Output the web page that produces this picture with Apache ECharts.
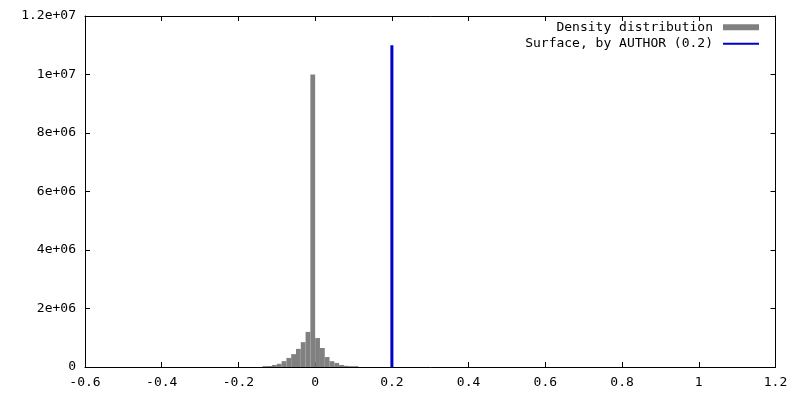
<!DOCTYPE html>
<html>
<head>
<meta charset="utf-8">
<script src="https://cdn.jsdelivr.net/npm/echarts@6/dist/echarts.min.js"></script>
<style>html,body{margin:0;padding:0;background:#fff}#c{width:800px;height:400px}</style>
</head>
<body>
<div id="c"></div>
<script>
// Histogram bins: left edges, right edges, counts
const binLeft  = [-0.1375,-0.125,-0.1125,-0.1,-0.0875,-0.075,-0.0625,-0.05,-0.0375,-0.025,-0.0125,0,0.0125,0.025,0.0375,0.05,0.0625,0.075,0.0875,0.1];
const binRight = [-0.125,-0.1125,-0.1,-0.0875,-0.075,-0.0625,-0.05,-0.0375,-0.025,-0.0125,0,0.0125,0.025,0.0375,0.05,0.0625,0.075,0.0875,0.1,0.1125];
const density  = [30000,35000,68000,110000,200000,310000,440000,620000,850000,1200000,10000000,990000,650000,340000,200000,140000,70000,40000,30000,30000];

// Surface line
const surfaceX = [0.2, 0.2];
const surfaceY = [0, 11000000];

// Axes
const xTickValues = [-0.6,-0.4,-0.2,0,0.2,0.4,0.6,0.8,1,1.2];
const xTickLabels = ['-0.6','-0.4','-0.2','0','0.2','0.4','0.6','0.8','1','1.2'];
const yTickValues = [0,2e6,4e6,6e6,8e6,1e7,1.2e7];
const yTickLabels = ['0','2e+06','4e+06','6e+06','8e+06','1e+07','1.2e+07'];

const seriesNames = ['Density distribution', 'Surface, by AUTHOR (0.2)'];

function lookup(vals, labels, v) {
  let best = 0, d = Infinity;
  for (let i = 0; i < vals.length; i++) {
    const dd = Math.abs(vals[i] - v);
    if (dd < d) { d = dd; best = i; }
  }
  return labels[best];
}

const FONT = 'DejaVu Sans Mono';
const chart = echarts.init(document.getElementById('c'), null, {renderer: 'canvas'});

function axisCommon() {
  return {
    axisLine: {show: true, onZero: false, lineStyle: {color: '#000', width: 1}},
    axisTick: {show: true, inside: true, length: 5, lineStyle: {color: '#000'}},
    splitLine: {show: false}
  };
}

const histData = binLeft.map((l, i) => [l, binRight[i], density[i]]);
const lineData = surfaceX.map((x, i) => [x, surfaceY[i]]);

chart.setOption({
  animation: false,
  backgroundColor: '#fff',
  grid: {left: 85, right: 24.5, top: 16, bottom: 33},
  legend: {
    orient: 'vertical',
    right: 40,
    top: 19,
    padding: 0,
    itemGap: 0,
    align: 'right',
    itemWidth: 36,
    itemHeight: 6,
    selectedMode: false,
    textStyle: {fontFamily: FONT, fontSize: 13, color: '#000', lineHeight: 16.5, padding: [0, 5, 0, 0]},
    data: [
      {name: seriesNames[0], icon: 'rect'},
      {name: seriesNames[1], itemStyle: {opacity: 0}}
    ]
  },
  xAxis: [
    Object.assign({
      type: 'value', position: 'bottom', min: -0.6, max: 1.2, interval: 0.2,
      axisLabel: {margin: 9, fontFamily: FONT, fontSize: 13, color: '#000',
        formatter: v => lookup(xTickValues, xTickLabels, v)}
    }, axisCommon()),
    Object.assign({
      type: 'value', position: 'top', min: -0.6, max: 1.2, interval: 0.2,
      axisLabel: {show: false}
    }, axisCommon())
  ],
  yAxis: [
    Object.assign({
      type: 'value', position: 'left', min: 0, max: 1.2e7, interval: 2e6,
      axisLabel: {margin: 9, fontFamily: FONT, fontSize: 13, color: '#000',
        formatter: v => lookup(yTickValues, yTickLabels, v)}
    }, axisCommon()),
    Object.assign({
      type: 'value', position: 'right', min: 0, max: 1.2e7, interval: 2e6,
      axisLabel: {show: false}
    }, axisCommon())
  ],
  series: [
    {
      name: seriesNames[0],
      type: 'custom',
      xAxisIndex: 0, yAxisIndex: 0,
      itemStyle: {color: '#808080'},
      encode: {x: [0, 1], y: 2},
      data: histData,
      renderItem: function (params, api) {
        const p0 = api.coord([api.value(0), api.value(2)]);
        const p1 = api.coord([api.value(1), 0]);
        return {
          type: 'rect',
          shape: {x: p0[0], y: p0[1], width: p1[0] - p0[0], height: p1[1] - p0[1]},
          style: {fill: '#808080'}
        };
      }
    },
    {
      name: seriesNames[1],
      type: 'line',
      xAxisIndex: 0, yAxisIndex: 0,
      symbol: 'none',
      showSymbol: false,
      color: '#0000cc',
      lineStyle: {color: '#0000cc', width: 3},
      data: lineData
    }
  ]
});
</script>
</body>
</html>
